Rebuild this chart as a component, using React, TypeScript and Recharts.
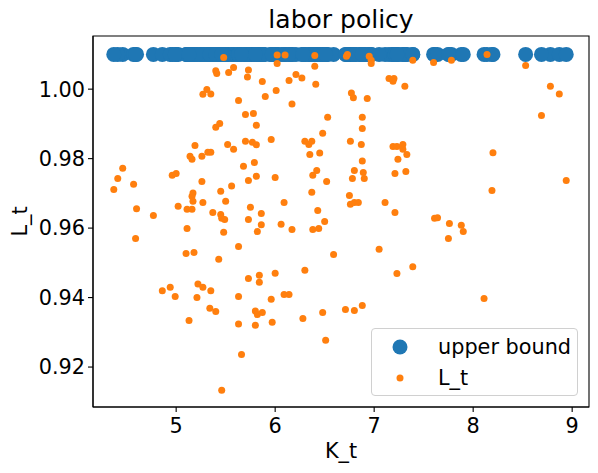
import React from "react";
import {
  ScatterChart,
  Scatter,
  XAxis,
  YAxis,
  ReferenceArea,
  Legend,
  Customized,
} from "recharts";

// K_t values (shared by both series)
const K_VALUES: number[] = [
  5.48, 5.40, 5.41, 5.53, 5.58, 5.73, 5.72, 6.02, 6.10, 6.02, 6.40, 6.40, 5.87, 6.14, 6.21, 6.27, 6.41,
  5.31, 5.27, 5.35, 5.63, 5.90, 6.01, 6.17, 5.70, 5.78, 6.53, 5.81, 5.40, 5.44, 6.48, 5.19, 5.52, 5.58,
  5.70, 5.77, 5.81, 5.96, 6.30, 6.34, 6.37, 5.14, 5.16, 5.26, 5.32, 5.35, 6.35, 6.45,
  4.46, 4.41, 4.37, 4.57, 4.60, 4.77, 4.59, 4.96, 5.00, 5.02, 5.11, 5.10, 5.18, 5.11, 5.16, 5.17, 5.16,
  5.17, 5.26, 5.27, 5.37, 5.45, 5.50, 5.56, 5.45, 5.46, 5.49, 5.48, 5.43, 5.63, 5.68, 5.79, 5.73, 5.81,
  5.75, 5.73, 5.86, 5.86, 5.82, 6.00, 6.09, 6.06, 6.17, 6.38, 6.42, 6.52, 6.37, 6.43, 6.50, 6.38, 6.44,
  6.59, 5.73, 5.84, 6.00, 6.30,
  4.86, 4.94, 4.99, 5.22, 5.27, 5.35, 5.21, 5.34, 5.40, 5.13, 5.63, 5.84, 5.96, 6.09, 6.14, 5.80, 5.82,
  5.87, 5.63, 5.80, 5.97, 6.28, 6.48, 6.51, 5.66, 5.46,
  6.72, 6.73, 6.95, 6.97, 6.97, 7.39, 7.60, 7.78, 8.14, 8.53, 7.15, 7.20, 7.19, 7.31, 6.77, 6.79, 6.93,
  6.88, 6.88, 6.76, 6.87, 7.19, 7.23, 7.29, 7.29, 7.33, 6.88, 7.24, 8.20, 8.78, 8.87, 8.69,
  6.80, 6.89, 6.90, 6.78, 6.75, 6.76, 6.80, 6.84, 7.11, 7.21, 7.21, 7.32, 8.19, 8.94, 7.61, 7.64, 7.76,
  7.88, 7.90, 7.75, 7.05, 7.39, 7.23,
  6.71, 6.80, 6.88, 8.11,
];

// L_t values
const L_VALUES: number[] = [
  1.0091, 1.0053, 1.0045, 1.0048, 1.0062, 1.0055, 1.0035, 1.0098, 1.0098, 1.0074, 1.0097, 1.0066, 1.0022,
  1.0025, 1.0042, 1.0032, 1.0014,
  0.9999, 0.9985, 0.9986, 0.9967, 0.9979, 0.9996, 0.9957, 0.9927, 0.993, 0.9919, 0.9896, 0.989, 0.9901,
  0.9873, 0.9838, 0.9841, 0.9827,
  0.985, 0.9847, 0.984, 0.9855, 0.985, 0.9841, 0.985, 0.9807, 0.9798, 0.9807, 0.9818, 0.9818, 0.9812, 0.9816,
  0.9772, 0.9743, 0.9711, 0.9726, 0.9656, 0.9636, 0.957, 0.9752, 0.9757, 0.9663, 0.9599, 0.9527, 0.953,
  0.9654, 0.9654, 0.9701, 0.9692,
  0.9677, 0.9734, 0.9674, 0.9645, 0.9706, 0.9677, 0.9721, 0.9639, 0.9628, 0.9625, 0.9588, 0.951, 0.9547,
  0.9778, 0.9789, 0.9737, 0.9749,
  0.966, 0.9625, 0.9642, 0.961, 0.959, 0.9746, 0.9674, 0.9611, 0.9596, 0.9752, 0.9766, 0.9734, 0.9703,
  0.9651, 0.9619, 0.9596, 0.9599,
  0.9524, 0.9455, 0.9464, 0.947, 0.9479,
  0.942, 0.943, 0.9403, 0.9439, 0.943, 0.942, 0.94, 0.9369, 0.936, 0.9334, 0.9403, 0.9444, 0.9395, 0.9409,
  0.9409, 0.9361, 0.9351,
  0.9357, 0.9324, 0.932, 0.9329, 0.934, 0.9357, 0.9277, 0.9236, 0.9133,
  1.0095, 1.01, 1.0095, 1.0083, 1.0074, 1.0083, 1.0077, 1.0083, 1.01, 1.0068, 1.0031, 1.0031, 1.0023,
  1.0008, 0.9989, 0.9975, 0.9973,
  0.9919, 0.9887, 0.985, 0.9841, 0.9835, 0.9835, 0.9841, 0.9827, 0.9812, 0.9793, 0.9798, 0.9817, 1.0008,
  0.9986, 0.9924,
  0.9766, 0.976, 0.9743, 0.9743, 0.9694, 0.9669, 0.9674, 0.9674, 0.9674, 0.9645, 0.9757, 0.9763, 0.9708,
  0.9737, 0.9628, 0.963, 0.9613,
  0.9608, 0.959, 0.957, 0.9539, 0.9489, 0.9469,
  0.9366, 0.9363, 0.9377, 0.9397,
];

const UPPER_BOUND = 1.01;
const X_TICKS = [5, 6, 7, 8, 9];
const Y_TICKS = [0.92, 0.94, 0.96, 0.98, 1.0];
const X_DOMAIN: [number, number] = [4.16, 9.17];
const Y_DOMAIN: [number, number] = [0.9085, 1.0153];

const BLUE = "#1f77b4";
const ORANGE = "#ff7f0e";
const FONT = "'DejaVu Sans', sans-serif";

const upperData = K_VALUES.map((k) => ({ x: k, y: UPPER_BOUND }));
const lData = K_VALUES.map((k, i) => ({ x: k, y: L_VALUES[i] }));

const BlueDot = (props: any) => (
  <circle cx={props.cx} cy={props.cy} r={7.5} fill={BLUE} />
);
const OrangeDot = (props: any) => (
  <circle cx={props.cx} cy={props.cy} r={3.5} fill={ORANGE} />
);

const LegendBox = () => (
  <div
    style={{
      width: 207,
      height: 68,
      boxSizing: "border-box",
      border: "1px solid #d0d0d0",
      borderRadius: 4,
      background: "rgba(255,255,255,0.8)",
      position: "relative",
      fontFamily: FONT,
      fontSize: 20.8,
      color: "#000",
    }}
  >
    <svg width={60} height={68} style={{ position: "absolute", left: 0, top: 0 }}>
      <circle cx={28} cy={18} r={7.5} fill={BLUE} />
      <circle cx={28} cy={49} r={3.5} fill={ORANGE} />
    </svg>
    <div style={{ position: "absolute", left: 66, top: 18, transform: "translateY(-50%)", lineHeight: 1, whiteSpace: "nowrap" }}>
      upper bound
    </div>
    <div style={{ position: "absolute", left: 66, top: 49, transform: "translateY(-50%)", lineHeight: 1, whiteSpace: "nowrap" }}>
      L_t
    </div>
  </div>
);

const Texts = () => (
  <g fontFamily={FONT} fill="#000">
    <text x={341} y={28} fontSize={25} textAnchor="middle">
      labor policy
    </text>
    <text x={341} y={458} fontSize={20.8} textAnchor="middle">
      K_t
    </text>
    <text x={27} y={221.5} fontSize={20.8} textAnchor="middle" transform="rotate(-90 27 221.5)">
      L_t
    </text>
  </g>
);

export default function App() {
  return (
    <div style={{ width: 598, height: 473, position: "relative", marginTop: -8, marginLeft: -8 }}>
      <ScatterChart
        width={598}
        height={473}
        margin={{ top: 36, right: 9, bottom: 0, left: 8 }}
      >
        <XAxis
          type="number"
          dataKey="x"
          domain={X_DOMAIN}
          ticks={X_TICKS}
          allowDataOverflow
          height={66}
          tickSize={5}
          tickMargin={6}
          axisLine={{ stroke: "#000", strokeWidth: 1.1 }}
          tickLine={{ stroke: "#000", strokeWidth: 1.1 }}
          tick={{ fill: "#000", fontSize: 20.8, fontFamily: FONT }}
          interval={0}
        />
        <YAxis
          type="number"
          dataKey="y"
          domain={Y_DOMAIN}
          ticks={Y_TICKS}
          allowDataOverflow
          width={85}
          tickSize={5}
          tickMargin={3}
          tickFormatter={(v: number) => v.toFixed(2)}
          axisLine={{ stroke: "#000", strokeWidth: 1.1 }}
          tickLine={{ stroke: "#000", strokeWidth: 1.1 }}
          tick={{ fill: "#000", fontSize: 20.8, fontFamily: FONT }}
          interval={0}
        />
        <ReferenceArea
          x1={X_DOMAIN[0]}
          x2={X_DOMAIN[1]}
          y1={Y_DOMAIN[0]}
          y2={Y_DOMAIN[1]}
          fill="none"
          fillOpacity={0}
          stroke="#000"
          strokeWidth={1.1}
        />
        <Scatter
          name="upper bound"
          data={upperData}
          fill={BLUE}
          shape={BlueDot}
          isAnimationActive={false}
        />
        <Scatter
          name="L_t"
          data={lData}
          fill={ORANGE}
          shape={OrangeDot}
          isAnimationActive={false}
        />
        <Legend
          layout="vertical"
          align="center"
          verticalAlign="middle"
          content={() => <LegendBox />}
          wrapperStyle={{ position: "absolute", left: 371, top: 328, width: 207, height: 68 }}
        />
        <Customized component={Texts} />
      </ScatterChart>
    </div>
  );
}
